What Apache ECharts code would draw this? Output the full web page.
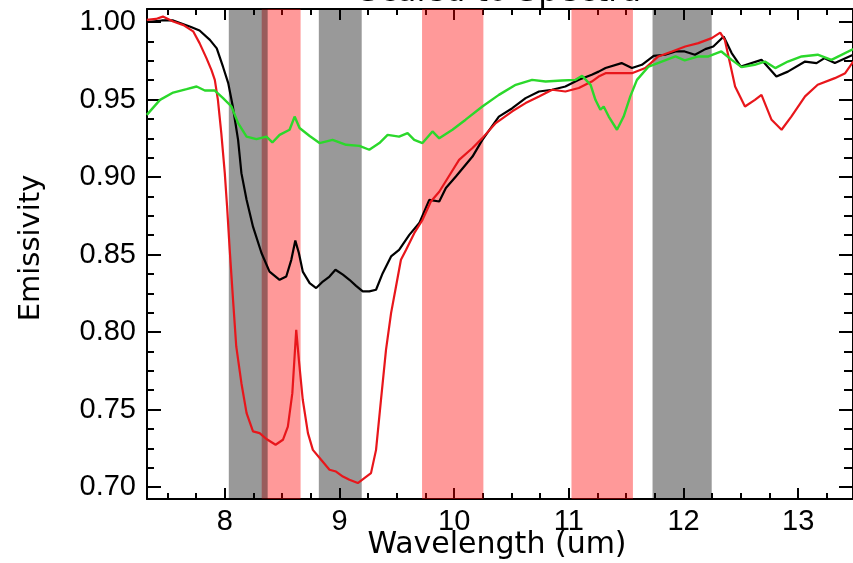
<!DOCTYPE html>
<html>
<head>
<meta charset="utf-8">
<script src="https://cdn.jsdelivr.net/npm/echarts@6/dist/echarts.min.js"></script>
<style>
html,body{margin:0;padding:0;background:#fff;}
#chart{width:853px;height:563px;}
</style>
</head>
<body>
<div id="chart"></div>
<script>
// ---------- data ----------
const titleText = 'Scaled to Spectra';
const xAxisTitle = 'Wavelength (um)';
const yAxisTitle = 'Emissivity';

const xMajorTicks = [8, 9, 10, 11, 12, 13];
const xMinorTicks = [7.5, 7.75, 8.25, 8.5, 8.75, 9.25, 9.5, 9.75, 10.25, 10.5, 10.75, 11.25, 11.5, 11.75, 12.25, 12.5, 12.75, 13.25];
const yMajorTicks = [0.70, 0.75, 0.80, 0.85, 0.90, 0.95, 1.00];
const yMinorTicks = [0.7125, 0.725, 0.7375, 0.7625, 0.775, 0.7875, 0.8125, 0.825, 0.8375, 0.8625, 0.875, 0.8875, 0.9125, 0.925, 0.9375, 0.9625, 0.975, 0.9875];

const grayBands = [[8.035, 8.374], [8.82, 9.194], [11.73, 12.246]];
const pinkBands = [[8.322, 8.661], [9.72, 10.255], [11.023, 11.559]];

const blackWl = [7.32, 7.45, 7.55, 7.70, 7.78, 7.87, 7.93, 7.985, 8.03, 8.07, 8.116, 8.145, 8.19, 8.246, 8.32, 8.39, 8.478, 8.536, 8.58, 8.615, 8.646, 8.68, 8.74, 8.797, 8.855, 8.913, 8.965, 9.03, 9.087, 9.145, 9.203, 9.26, 9.319, 9.377, 9.45, 9.52, 9.609, 9.696, 9.783, 9.87, 9.928, 10.015, 10.16, 10.246, 10.39, 10.507, 10.623, 10.74, 10.855, 10.97, 11.087, 11.2, 11.26, 11.32, 11.46, 11.55, 11.637, 11.74, 11.84, 11.93, 12.01, 12.1, 12.19, 12.26, 12.35, 12.42, 12.5, 12.68, 12.81, 12.91, 13.06, 13.16, 13.23, 13.32, 13.48];
const blackEm = [1.000, 1.001, 1.001, 0.997, 0.9945, 0.9885, 0.983, 0.971, 0.9606, 0.9455, 0.924, 0.9025, 0.8853, 0.868, 0.851, 0.839, 0.8337, 0.8358, 0.8466, 0.859, 0.851, 0.839, 0.8316, 0.8284, 0.8326, 0.8358, 0.8402, 0.837, 0.8337, 0.8298, 0.8262, 0.8262, 0.8273, 0.838, 0.8488, 0.853, 0.8627, 0.8703, 0.8853, 0.8842, 0.8929, 0.9003, 0.9132, 0.924, 0.939, 0.9444, 0.9509, 0.9552, 0.9563, 0.9584, 0.9627, 0.966, 0.968, 0.9703, 0.9735, 0.9703, 0.9724, 0.9782, 0.9789, 0.981, 0.981, 0.9789, 0.9825, 0.9842, 0.9907, 0.980, 0.9713, 0.9756, 0.9648, 0.968, 0.9745, 0.9735, 0.9767, 0.9735, 0.9789];

const redWl = [7.32, 7.40, 7.46, 7.55, 7.64, 7.724, 7.78, 7.84, 7.884, 7.913, 7.94, 7.97, 8.0, 8.02, 8.043, 8.072, 8.10, 8.145, 8.19, 8.246, 8.304, 8.363, 8.443, 8.507, 8.55, 8.589, 8.623, 8.646, 8.68, 8.725, 8.768, 8.84, 8.913, 8.97, 9.03, 9.087, 9.16, 9.217, 9.275, 9.319, 9.362, 9.406, 9.45, 9.493, 9.536, 9.58, 9.652, 9.724, 9.797, 9.87, 9.95, 10.043, 10.16, 10.246, 10.363, 10.507, 10.623, 10.74, 10.855, 10.97, 11.087, 11.2, 11.26, 11.32, 11.435, 11.55, 11.667, 11.78, 11.9, 12.015, 12.13, 12.246, 12.32, 12.36, 12.405, 12.45, 12.536, 12.623, 12.68, 12.768, 12.855, 12.94, 13.06, 13.17, 13.32, 13.41, 13.48];
const redEm = [1.0014, 1.002, 1.0035, 1.0003, 0.998, 0.994, 0.9864, 0.9767, 0.969, 0.9627, 0.9498, 0.928, 0.9025, 0.881, 0.853, 0.8208, 0.7907, 0.767, 0.7477, 0.7359, 0.7348, 0.731, 0.7273, 0.7305, 0.739, 0.7606, 0.8015, 0.7821, 0.7563, 0.7348, 0.724, 0.7176, 0.7112, 0.710, 0.7068, 0.7047, 0.7026, 0.7058, 0.709, 0.724, 0.7563, 0.7886, 0.8122, 0.8294, 0.8466, 0.853, 0.8638, 0.8724, 0.8842, 0.8905, 0.900, 0.9111, 0.9187, 0.9251, 0.9348, 0.9424, 0.9477, 0.952, 0.9563, 0.9552, 0.9574, 0.9616, 0.9648, 0.967, 0.967, 0.967, 0.9703, 0.9778, 0.981, 0.9842, 0.9864, 0.9896, 0.9932, 0.9885, 0.9735, 0.9584, 0.9455, 0.9498, 0.953, 0.9369, 0.9305, 0.939, 0.952, 0.9595, 0.9638, 0.967, 0.9745];

const greenWl = [7.32, 7.435, 7.55, 7.667, 7.754, 7.826, 7.913, 7.985, 8.058, 8.116, 8.19, 8.276, 8.363, 8.415, 8.478, 8.565, 8.609, 8.652, 8.74, 8.826, 8.94, 9.058, 9.174, 9.26, 9.348, 9.42, 9.52, 9.594, 9.652, 9.724, 9.811, 9.87, 9.985, 10.1, 10.246, 10.39, 10.537, 10.68, 10.797, 10.94, 11.058, 11.116, 11.19, 11.232, 11.275, 11.304, 11.348, 11.42, 11.478, 11.536, 11.594, 11.696, 11.81, 11.93, 12.01, 12.13, 12.217, 12.33, 12.42, 12.507, 12.62, 12.71, 12.8, 12.91, 13.03, 13.17, 13.29, 13.48];
const greenEm = [0.9401, 0.9498, 0.9545, 0.9567, 0.9584, 0.9558, 0.9558, 0.9509, 0.9455, 0.9348, 0.9261, 0.9245, 0.9261, 0.9223, 0.9272, 0.9305, 0.939, 0.9316, 0.9265, 0.9219, 0.924, 0.9208, 0.9201, 0.9176, 0.9219, 0.9272, 0.9261, 0.9283, 0.924, 0.9219, 0.9294, 0.925, 0.9305, 0.937, 0.9455, 0.953, 0.9595, 0.9627, 0.9616, 0.9623, 0.9627, 0.9653, 0.9595, 0.9498, 0.9434, 0.9455, 0.939, 0.9305, 0.939, 0.952, 0.9627, 0.9713, 0.9745, 0.9778, 0.9752, 0.9778, 0.9778, 0.981, 0.9756, 0.9709, 0.9724, 0.9745, 0.9703, 0.9745, 0.9778, 0.9789, 0.9756, 0.9825];

// ---------- chart ----------
const X_MIN = 7.3217, X_MAX = 13.478;
const Y_MIN = 0.6923, Y_MAX = 1.0084;
const zip = (a, b) => a.map((v, i) => [v, b[i]]);
const LABEL_FONT = 'Liberation Sans';

function xAx(pos, ticks, len, showLine, showLabel) {
  return {
    type: 'value', position: pos, min: X_MIN, max: X_MAX,
    splitLine: { show: false },
    axisLine: { show: showLine, onZero: false, lineStyle: { color: '#000', width: 2 } },
    axisTick: { show: true, inside: true, length: len, customValues: ticks, lineStyle: { color: '#000', width: 2 } },
    axisLabel: showLabel ? { show: true, customValues: ticks, color: '#000', fontSize: 29, fontFamily: LABEL_FONT, margin: 8 } : { show: false }
  };
}
function yAx(pos, ticks, len, showLine, showLabel) {
  return {
    type: 'value', position: pos, min: Y_MIN, max: Y_MAX,
    splitLine: { show: false },
    axisLine: { show: showLine, onZero: false, lineStyle: { color: '#000', width: 2 } },
    axisTick: { show: true, inside: true, length: len, customValues: ticks, lineStyle: { color: '#000', width: 2 } },
    axisLabel: showLabel ? { show: true, customValues: ticks, color: '#000', fontSize: 29, fontFamily: LABEL_FONT, margin: 11, formatter: v => v.toFixed(2) } : { show: false }
  };
}

const chart = echarts.init(document.getElementById('chart'), null, { renderer: 'canvas' });
const option = {
  animation: false,
  backgroundColor: '#fff',
  grid: { left: 147, right: -2, top: 9, bottom: 64, containLabel: false },
  xAxis: [
    xAx('bottom', xMajorTicks, 11, true, true),
    xAx('bottom', xMinorTicks, 6, false, false),
    xAx('top', xMajorTicks, 11, true, false),
    xAx('top', xMinorTicks, 6, false, false)
  ],
  yAxis: [
    yAx('left', yMajorTicks, 14, true, true),
    yAx('left', yMinorTicks, 7, false, false),
    yAx('right', yMajorTicks, 14, true, false),
    yAx('right', yMinorTicks, 9, false, false)
  ],
  graphic: [
    { type: 'text', x: 500, y: 9, silent: true,
      style: { text: titleText, font: '32px "DejaVu Sans"', fill: '#000', align: 'center', verticalAlign: 'bottom' } },
    { type: 'text', x: 497, y: 545, silent: true,
      style: { text: xAxisTitle, font: '30px "DejaVu Sans"', fill: '#000', align: 'center', verticalAlign: 'middle' } },
    { type: 'text', x: 31, y: 248, rotation: Math.PI / 2, silent: true,
      style: { text: yAxisTitle, font: '29px "DejaVu Sans"', fill: '#000', align: 'center', verticalAlign: 'middle' } }
  ],
  series: [
    { type: 'line', data: [], z: 1, silent: true,
      markArea: { silent: true, itemStyle: { color: 'rgba(255,0,0,0.4)' },
        data: pinkBands.map(b => [{ xAxis: b[0] }, { xAxis: b[1] }]) } },
    { type: 'line', data: [], z: 2, silent: true,
      markArea: { silent: true, itemStyle: { color: 'rgba(0,0,0,0.4)' },
        data: grayBands.map(b => [{ xAxis: b[0] }, { xAxis: b[1] }]) } },
    { name: 'black', type: 'line', data: zip(blackWl, blackEm), z: 3, symbol: 'none',
      lineStyle: { color: '#000', width: 2.2 } },
    { name: 'red', type: 'line', data: zip(redWl, redEm), z: 4, symbol: 'none',
      lineStyle: { color: '#e8161b', width: 2.2 } },
    { name: 'green', type: 'line', data: zip(greenWl, greenEm), z: 5, symbol: 'none',
      lineStyle: { color: '#2bd82b', width: 2.4 } }
  ]
};
chart.setOption(option);
</script>
</body>
</html>
